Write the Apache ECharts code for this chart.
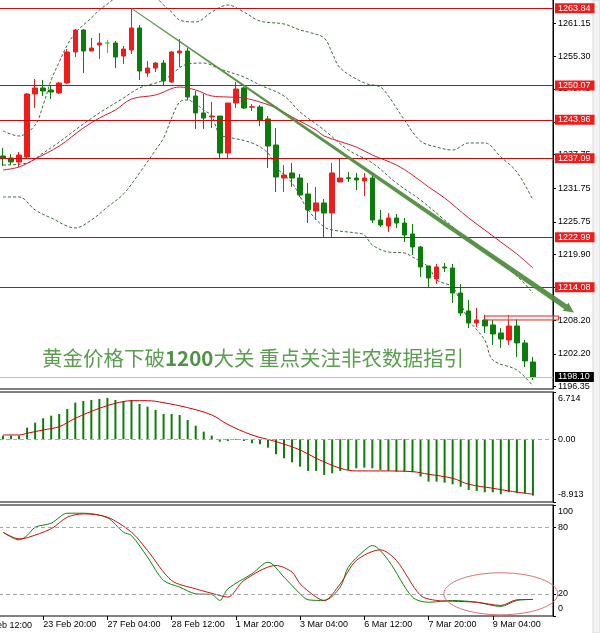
<!DOCTYPE html>
<html lang="zh">
<head>
<meta charset="UTF-8" />
<title>黄金 H4</title>
<style>
  html, body { margin: 0; padding: 0; background: #fff; }
  #main { width: 600px; height: 633px; }
</style>
</head>
<body>
<div id="main"></div>
<script src="https://cdn.jsdelivr.net/npm/echarts@6/dist/echarts.min.js"></script>
<script>
// H4 bars, two empty slots on the right
const categories = [
  '23 Feb 00:00', '23 Feb 04:00', '23 Feb 08:00', '23 Feb 12:00', '23 Feb 16:00', '23 Feb 20:00',
  '24 Feb 00:00', '24 Feb 04:00', '24 Feb 08:00', '24 Feb 12:00', '24 Feb 16:00', '24 Feb 20:00',
  '27 Feb 00:00', '27 Feb 04:00', '27 Feb 08:00', '27 Feb 12:00', '27 Feb 16:00', '27 Feb 20:00',
  '28 Feb 00:00', '28 Feb 04:00', '28 Feb 08:00', '28 Feb 12:00', '28 Feb 16:00', '28 Feb 20:00',
  '1 Mar 00:00', '1 Mar 04:00', '1 Mar 08:00', '1 Mar 12:00', '1 Mar 16:00', '1 Mar 20:00',
  '2 Mar 00:00', '2 Mar 04:00', '2 Mar 08:00', '2 Mar 12:00', '2 Mar 16:00', '2 Mar 20:00',
  '3 Mar 00:00', '3 Mar 04:00', '3 Mar 08:00', '3 Mar 12:00', '3 Mar 16:00', '3 Mar 20:00',
  '6 Mar 00:00', '6 Mar 04:00', '6 Mar 08:00', '6 Mar 12:00', '6 Mar 16:00', '6 Mar 20:00',
  '7 Mar 00:00', '7 Mar 04:00', '7 Mar 08:00', '7 Mar 12:00', '7 Mar 16:00', '7 Mar 20:00',
  '8 Mar 00:00', '8 Mar 04:00', '8 Mar 08:00', '8 Mar 12:00', '8 Mar 16:00', '8 Mar 20:00',
  '9 Mar 00:00', '9 Mar 04:00', '9 Mar 08:00', '9 Mar 12:00', '9 Mar 16:00', '9 Mar 20:00',
  '10 Mar 00:00', '', ''
]
const labelBars = [5, 13, 21, 29, 37, 45, 53, 61]
const cutLabel = '22 Feb 12:00' // bar -3, half off the left edge

// [open, close, low, high]
const candles = [
  [1237.50, 1237.14, 1235.71, 1238.92], [1237.14, 1236.43, 1235.89, 1237.85],
  [1236.43, 1237.68, 1235.54, 1238.21], [1237.32, 1248.56, 1237.14, 1248.73],
  [1248.56, 1249.63, 1246.06, 1251.23], [1249.63, 1249.09, 1248.20, 1251.05],
  [1249.27, 1248.91, 1247.66, 1250.16], [1248.73, 1250.52, 1248.56, 1250.70],
  [1250.52, 1256.05, 1250.34, 1256.58], [1256.05, 1259.97, 1255.15, 1260.15],
  [1259.97, 1256.22, 1252.30, 1260.15], [1256.22, 1256.76, 1256.22, 1258.54],
  [1257.29, 1257.65, 1254.80, 1259.43], [1257.65, 1257.65, 1255.87, 1258.19],
  [1257.65, 1255.15, 1253.19, 1258.01], [1255.33, 1256.58, 1253.91, 1257.12],
  [1256.40, 1260.33, 1255.69, 1263.84], [1260.33, 1252.66, 1251.05, 1260.86],
  [1252.30, 1253.19, 1251.59, 1254.44], [1253.19, 1254.08, 1252.48, 1254.26],
  [1254.08, 1250.87, 1250.16, 1254.62], [1250.70, 1256.05, 1250.52, 1256.22],
  [1255.87, 1256.22, 1253.37, 1258.36], [1256.22, 1248.02, 1247.48, 1256.76],
  [1248.20, 1245.17, 1242.31, 1249.09], [1245.17, 1244.27, 1242.31, 1248.56],
  [1244.45, 1244.63, 1242.49, 1247.13], [1244.63, 1238.03, 1237.14, 1244.63],
  [1238.03, 1246.95, 1236.96, 1246.95], [1246.95, 1249.45, 1246.06, 1250.70],
  [1249.63, 1246.06, 1245.88, 1249.80], [1246.20, 1246.28, 1245.52, 1246.77],
  [1246.24, 1243.92, 1242.85, 1246.59], [1244.10, 1239.28, 1235.36, 1244.63],
  [1239.46, 1233.75, 1231.08, 1242.49], [1233.57, 1234.11, 1231.08, 1235.89],
  [1234.47, 1233.57, 1231.97, 1236.25], [1233.57, 1230.54, 1230.19, 1234.29],
  [1230.72, 1227.87, 1225.55, 1232.68], [1227.69, 1229.12, 1226.08, 1231.97],
  [1229.12, 1227.33, 1223.05, 1229.83], [1227.33, 1234.47, 1222.87, 1236.25],
  [1232.86, 1233.57, 1232.86, 1237.14], [1233.60, 1233.50, 1232.86, 1234.64],
  [1233.57, 1233.22, 1231.43, 1234.47], [1233.04, 1233.57, 1230.36, 1234.47],
  [1233.57, 1226.08, 1225.55, 1234.47], [1226.08, 1225.19, 1224.83, 1227.87],
  [1225.01, 1226.44, 1223.94, 1227.33], [1226.44, 1225.55, 1224.66, 1227.15],
  [1225.55, 1223.41, 1222.16, 1226.44], [1223.59, 1221.27, 1219.84, 1225.37],
  [1221.27, 1217.70, 1215.92, 1221.45], [1217.88, 1215.74, 1214.13, 1217.88],
  [1215.56, 1217.70, 1214.67, 1218.24], [1217.70, 1217.52, 1216.81, 1218.41],
  [1217.52, 1213.06, 1211.28, 1218.24], [1213.06, 1209.50, 1208.96, 1214.67],
  [1209.85, 1207.71, 1206.82, 1211.82], [1207.71, 1208.25, 1207.00, 1210.39],
  [1208.25, 1207.18, 1205.93, 1209.14], [1207.36, 1205.75, 1203.79, 1208.25],
  [1205.93, 1204.86, 1203.26, 1206.82], [1204.68, 1207.18, 1203.79, 1209.14],
  [1207.18, 1204.15, 1201.65, 1208.43], [1204.15, 1200.94, 1199.87, 1204.68],
  [1200.76, 1198.10, 1197.55, 1201.65]
]

// bollinger bands and moving average, [bar, price]
const bandUpper = [
  [0, 1241.96], [2, 1241.06], [4, 1243.03], [5, 1246.59], [6, 1251.05], [7, 1254.26],
  [8, 1257.29], [9, 1259.43], [10, 1260.86], [11, 1262.11], [12, 1263.54], [13, 1264.61],
  [14, 1265.68], [16, 1267.10], [18, 1266.75], [19, 1265.86], [20, 1264.43], [21, 1263.18],
  [22, 1261.75], [24, 1261.40], [26, 1263.18], [28, 1264.43], [30, 1263.18], [32, 1261.57],
  [35, 1261.04], [37, 1259.97], [38, 1259.61], [40, 1258.54], [41, 1255.87], [42, 1253.19],
  [45, 1250.52], [47, 1249.80], [48, 1248.20], [50, 1243.92], [52, 1240.17], [54, 1239.10],
  [56, 1238.57], [58, 1239.82], [60, 1239.82], [62, 1237.32], [64, 1234.64], [66, 1229.65]
]
const bandMiddle = [
  [0, 1235.89], [3, 1236.25], [5, 1238.03], [7, 1239.99], [10, 1243.20], [12, 1245.17],
  [15, 1247.84], [17, 1249.63], [20, 1251.05], [23, 1253.91], [25, 1254.08], [27, 1253.01],
  [30, 1251.59], [32, 1250.16], [35, 1248.20], [37, 1245.35], [40, 1242.13], [43, 1238.57],
  [46, 1236.25], [49, 1232.68], [52, 1229.65], [55, 1226.08], [58, 1222.52], [61, 1219.48],
  [64, 1216.10], [66, 1213.06]
]
const bandLower = [
  [0, 1230.19], [2, 1230.19], [4, 1227.87], [6, 1226.44], [9, 1224.66], [11, 1226.08],
  [13, 1228.40], [15, 1230.72], [17, 1234.47], [19, 1238.57], [20, 1240.71], [21, 1244.27],
  [22, 1247.13], [23, 1247.49], [24, 1246.77], [25, 1245.70], [26, 1244.63], [27, 1241.24],
  [28, 1240.89], [31, 1239.82], [33, 1238.03], [34, 1235.54], [36, 1232.68], [38, 1227.87],
  [40, 1224.83], [41, 1224.30], [44, 1223.76], [45, 1223.41], [46, 1221.62], [48, 1220.37],
  [50, 1220.20], [51, 1219.48], [53, 1217.70], [54, 1215.39], [56, 1214.13], [57, 1211.28],
  [58, 1208.25], [60, 1204.68], [61, 1201.11], [64, 1199.33], [66, 1196.48]
]
const movingAvg = [
  [0, 1235.00], [2, 1235.54], [4, 1236.96], [7, 1239.28], [10, 1242.49], [12, 1244.27],
  [14, 1245.70], [16, 1247.66], [19, 1248.38], [22, 1249.80], [24, 1249.27], [26, 1248.20],
  [28, 1248.02], [30, 1247.84], [32, 1247.13], [34, 1246.06], [36, 1244.45], [39, 1242.13],
  [40, 1241.06], [44, 1239.10], [46, 1237.68], [49, 1235.89], [51, 1234.11], [53, 1231.97],
  [55, 1230.01], [58, 1226.44], [60, 1224.30], [62, 1222.16], [64, 1220.02], [66, 1217.52]
]

// horizontal levels, bid, price scale
const levels = [1263.84, 1250.07, 1243.96, 1237.09, 1222.99, 1214.08]
const bidPrice = 1198.10
const priceTicks = [1261.15, 1255.30, 1249.45, 1243.60, 1237.75, 1231.75, 1225.75, 1219.90, 1214.05, 1208.20, 1202.20, 1196.35]
const priceMin = 1195.94
const priceMax = 1265.50

// trend arrow and small box: [bar, price]
const trendLine = [[16, 1263.84], [71.1, 1209.60]]
const boxZone = [[60, 1208.96], [69.2, 1208.25]]

// MACD
const macdHist = [
  0.51, 0.51, 0.51, 1.65, 2.36, 2.98, 3.35, 3.59, 4.30, 5.20, 5.44, 5.58, 5.72, 5.87, 5.58, 5.44,
  5.58, 5.01, 4.63, 4.16, 3.59, 3.59, 3.45, 2.74, 1.93, 1.08, 0.51, -0.34, -0.24, -0.10, -0.24,
  -0.57, -0.71, -1.19, -2.13, -2.70, -3.27, -3.89, -4.50, -4.50, -5.07, -4.83, -4.50, -4.36,
  -4.12, -4.03, -4.12, -4.36, -4.50, -4.60, -4.60, -4.69, -5.31, -6.02, -6.02, -6.16, -6.39,
  -6.73, -7.20, -7.34, -7.53, -7.53, -7.81, -7.53, -7.67, -7.67, -8.01
]
const macdSignal = [
  [0, 0.61], [2, 0.61], [3, 0.85], [5, 1.32], [7, 1.79], [9, 2.98], [12, 4.40], [14, 5.11],
  [16, 5.48], [18, 5.48], [20, 5.20], [23, 4.49], [26, 3.45], [28, 2.10], [31, 0.61],
  [34, -0.34], [37, -1.52], [39, -2.70], [42, -4.12], [44, -4.50], [47, -4.50], [51, -4.60],
  [53, -4.97], [56, -5.54], [58, -6.39], [61, -6.96], [63, -7.34], [66, -7.81]
]
const macdMax = 6.714
const macdMin = -8.913

// Stochastic
const stochK = [
  [0, 75.5], [2, 68.6], [3, 72.5], [4, 80], [6, 83.6], [8, 92.6], [10, 92.6], [13, 88.5],
  [15, 75.5], [16, 72.5], [18, 53], [20, 32], [22, 26], [24, 20], [26, 19.4], [27, 14],
  [28, 24.5], [31, 38], [33, 48.5], [35, 35], [37, 20], [38, 14.6], [40, 14], [42, 26],
  [43, 44], [45, 59], [46, 63.5], [48, 50], [51, 17], [53, 12.4], [56, 14], [59, 12.4],
  [62, 8.6], [64, 14], [66, 14.9]
]
const stochD = [
  [0, 75.5], [2, 69.5], [3, 70.5], [6, 78.6], [8, 89], [10, 92], [13, 89], [16, 75.5],
  [18, 59], [21, 32], [24, 24.5], [27, 18.5], [28, 17], [30, 32], [34, 45.5], [36, 39.5],
  [37, 29], [39, 17], [40, 14], [42, 29], [44, 50], [47, 59.6], [49, 50], [52, 18.5],
  [54, 14], [56, 13.3], [59, 12.4], [62, 9.5], [64, 14.6], [66, 14.9]
]
const stochLevels = [80, 20]
// ellipse: centre [bar, value], radii in px
const ellipseMark = [62, 20, 57, 21]

const font = 'Liberation Sans'
const RED = '#f01c1c'
const GREEN = '#0a7d0a'
const BAND = '#3d6b3d'

const chart = echarts.init(document.getElementById('main'))

const grids = [
  { left: -1, top: -1, width: 554, height: 390 },
  { left: -1, top: 392, width: 554, height: 110 },
  { left: -1, top: 505, width: 554, height: 111 }
].map(g => Object.assign(g, { show: true, borderColor: '#000', borderWidth: 1, outerBoundsMode: 'none' }))

const showLabel = i => labelBars.includes(i)

const xAxes = [0, 1, 2].map(i => ({
  type: 'category',
  gridIndex: i,
  data: categories,
  boundaryGap: true,
  axisLine: { show: false },
  axisTick: i === 2 ? { show: true, interval: showLabel, alignWithLabel: true, length: 4, lineStyle: { color: '#000' } } : { show: false },
  axisLabel: i === 2 ? {
    show: true, interval: showLabel, align: 'left', margin: 4,
    color: '#000', fontSize: 9, fontFamily: font
  } : { show: false },
  splitLine: { show: false }
}))

const edgeRich = {
  t: { padding: [14, 0, 0, 0], fontSize: 9, fontFamily: font, color: '#000' },
  b: { padding: [0, 0, 14, 0], fontSize: 9, fontFamily: font, color: '#000' }
}

const yAxes = [
  {
    type: 'value', gridIndex: 0, position: 'right', min: priceMin, max: priceMax,
    axisLine: { show: true, lineStyle: { color: '#000' } },
    axisTick: { show: true, length: 3, customValues: priceTicks, lineStyle: { color: '#000' } },
    axisLabel: { customValues: priceTicks, formatter: v => v.toFixed(2), margin: 5, color: '#000', fontSize: 9, fontFamily: font },
    splitLine: { show: false }
  },
  {
    type: 'value', gridIndex: 1, position: 'right', min: macdMin, max: macdMax,
    axisLine: { show: true, lineStyle: { color: '#000' } },
    axisTick: { show: true, length: 3, customValues: [macdMax, 0, macdMin], lineStyle: { color: '#000' } },
    axisLabel: {
      customValues: [macdMax, 0, macdMin], margin: 5, color: '#000', fontSize: 9, fontFamily: font,
      formatter: v => v === macdMax ? '{t|' + v + '}' : v === macdMin ? '{b|' + v + '}' : v.toFixed(2),
      rich: edgeRich
    },
    splitLine: { show: false }
  },
  {
    type: 'value', gridIndex: 2, position: 'right', min: 0, max: 100,
    axisLine: { show: true, lineStyle: { color: '#000' } },
    axisTick: { show: true, length: 3, customValues: [100, 80, 20, 0], lineStyle: { color: '#000' } },
    axisLabel: {
      customValues: [100, 80, 20, 0], margin: 5, color: '#000', fontSize: 9, fontFamily: font,
      formatter: v => v === 100 ? '{t|100}' : v === 0 ? '{b|0}' : String(v),
      rich: edgeRich
    },
    splitLine: { show: false }
  }
]

const tagLabel = {
  show: true, position: 'end', distance: 2, color: '#fff', backgroundColor: RED,
  padding: [1, 4, 0, 3], fontSize: 9, fontFamily: font,
  formatter: p => p.value.toFixed(2)
}

const bandLine = (name, data) => ({
  name, type: 'line', xAxisIndex: 0, yAxisIndex: 0, data, smooth: 0.35,
  showSymbol: false, silent: true,
  lineStyle: { color: BAND, width: 1, type: [3, 2] }
})

const dashedLevel = {
  symbol: 'none', silent: true, animation: false, label: { show: false },
  lineStyle: { color: '#a8a8a8', width: 1, type: [4, 3] }
}

const option = {
  animation: false,
  backgroundColor: '#fff',
  grid: grids,
  xAxis: xAxes,
  yAxis: yAxes,
  title: {
    text: '{a|黄金价格下破}{b|1200}{a|大关 重点关注非农数据指引}',
    left: 42, top: 346, padding: 0,
    textStyle: {
      fontWeight: 'normal',
      rich: {
        a: { fontSize: 20.5, lineHeight: 24, color: '#5a9e4e', fontWeight: 'normal', fontFamily: 'Noto Sans CJK SC' },
        b: { fontSize: 20.5, lineHeight: 24, color: '#4f9444', fontWeight: 'bold', fontFamily: 'Noto Sans CJK SC' }
      }
    }
  },
  series: [
    {
      name: 'XAUUSD', type: 'candlestick', xAxisIndex: 0, yAxisIndex: 0,
      data: candles, barWidth: 5,
      itemStyle: {
        color: RED, color0: GREEN, borderColor: RED, borderColor0: GREEN,
        borderColorDoji: '#22dd22', borderWidth: 1
      },
      markLine: {
        symbol: 'none', silent: true, animation: false,
        lineStyle: { color: '#e00000', width: 1, type: 'solid' },
        label: tagLabel,
        data: levels.map(v => ({ yAxis: v })).concat([{
          yAxis: bidPrice,
          lineStyle: { color: '#bdbdbd', width: 1, type: 'solid' },
          label: Object.assign({}, tagLabel, { backgroundColor: '#000' })
        }])
      }
    },
    bandLine('upper', bandUpper),
    bandLine('middle', bandMiddle),
    bandLine('lower', bandLower),
    {
      name: 'MA', type: 'line', xAxisIndex: 0, yAxisIndex: 0, data: movingAvg, smooth: 0.35,
      showSymbol: false, silent: true, lineStyle: { color: '#d81b30', width: 1 }
    },
    {
      name: 'MACD', type: 'bar', xAxisIndex: 1, yAxisIndex: 1, data: macdHist, barWidth: 2,
      itemStyle: { color: GREEN }, silent: true,
      markLine: Object.assign({ data: [{ yAxis: 0 }] }, dashedLevel)
    },
    {
      name: 'Signal', type: 'line', xAxisIndex: 1, yAxisIndex: 1, data: macdSignal, smooth: 0.35,
      showSymbol: false, silent: true, lineStyle: { color: '#d40000', width: 1 }
    },
    {
      name: '%K', type: 'line', xAxisIndex: 2, yAxisIndex: 2, data: stochK, smooth: 0.3,
      showSymbol: false, silent: true, lineStyle: { color: '#0a8a0a', width: 1 },
      markLine: Object.assign({ data: stochLevels.map(v => ({ yAxis: v })) }, dashedLevel)
    },
    {
      name: '%D', type: 'line', xAxisIndex: 2, yAxisIndex: 2, data: stochD, smooth: 0.3,
      showSymbol: false, silent: true, lineStyle: { color: '#d01010', width: 1 }
    }
  ]
}

chart.setOption(option)

// pixel position of a (possibly fractional) bar and value on panel i
function px(i, bar, value) {
  const x0 = chart.convertToPixel({ xAxisIndex: i }, 0)
  const x1 = chart.convertToPixel({ xAxisIndex: i }, 1)
  return [x0 + bar * (x1 - x0), chart.convertToPixel({ yAxisIndex: i }, value)]
}

// tapered trend arrow
const a = px(0, trendLine[0][0], trendLine[0][1])
const b = px(0, trendLine[1][0], trendLine[1][1])
const len = Math.hypot(b[0] - a[0], b[1] - a[1])
const ux = (b[0] - a[0]) / len, uy = (b[1] - a[1]) / len
const nx = -uy, ny = ux
const head = 10
const base = [b[0] - ux * head, b[1] - uy * head]
const off = (p, w) => [p[0] + nx * w, p[1] + ny * w]
const arrowPts = [off(a, 0.5), off(base, 2.6), off(base, 5), b, off(base, -5), off(base, -2.6), off(a, -0.5)]

const boxA = px(0, boxZone[0][0], boxZone[0][1])
const boxB = px(0, boxZone[1][0], boxZone[1][1])
const ell = px(2, ellipseMark[0], ellipseMark[1])
const cutPos = px(2, -3, 0)

chart.setOption({
  graphic: [
    {
      type: 'rect', z: 90,
      shape: { x: boxA[0], y: boxA[1], width: boxB[0] - boxA[0], height: boxB[1] - boxA[1] },
      style: { fill: 'rgba(255,220,220,0.35)', stroke: '#e02828', lineWidth: 1 }
    },
    {
      type: 'polygon', z: 100,
      shape: { points: arrowPts },
      style: { fill: '#4b8b3b', opacity: 0.92 }
    },
    {
      type: 'ellipse', z: 100,
      shape: { cx: ell[0], cy: ell[1], rx: ellipseMark[2], ry: ellipseMark[3] },
      style: { fill: 'none', stroke: '#e07070', lineWidth: 1 }
    },
    {
      type: 'text', z: 100, x: cutPos[0], y: cutPos[1] + 5,
      style: { text: cutLabel, fill: '#000', fontSize: 9, fontFamily: font, align: 'left', verticalAlign: 'top' }
    },
    {
      type: 'rect', z: 1,
      shape: { x: 593, y: 0, width: 7, height: 633 },
      style: { fill: '#f3f3f3', stroke: '#d8d8d8', lineWidth: 1 }
    }
  ]
})
</script>
</body>
</html>
